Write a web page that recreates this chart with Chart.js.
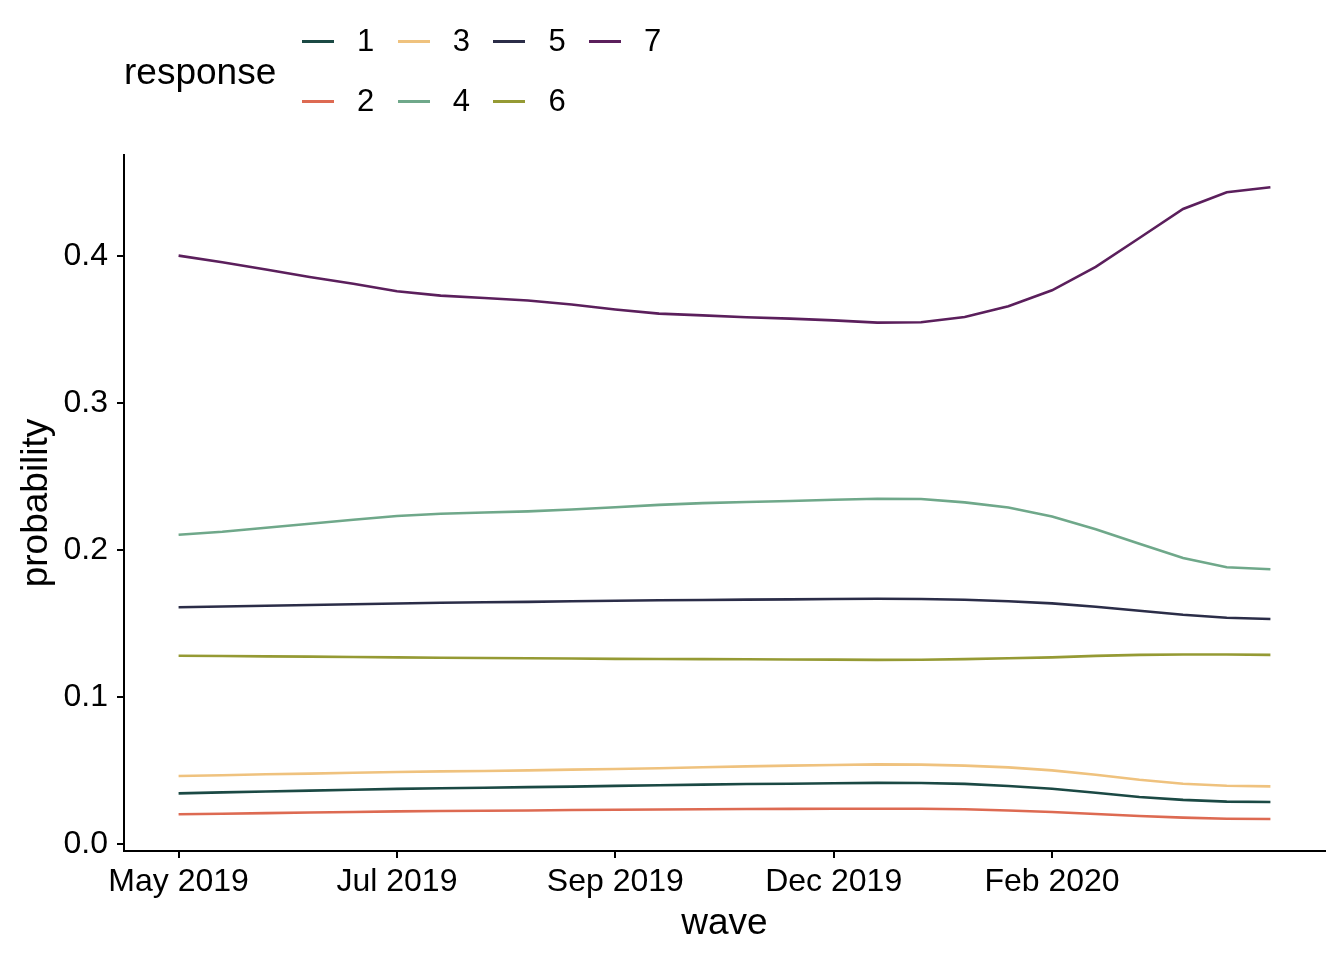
<!DOCTYPE html>
<html>
<head>
<meta charset="utf-8">
<script src="https://cdn.jsdelivr.net/npm/chart.js@4/dist/chart.umd.min.js"></script>
<style>
  body { margin: 0; background: #fff; font-family: "Liberation Sans", Arial, sans-serif; }
  #wrap { position: relative; width: 1344px; height: 960px; }
  #legend { position: absolute; left: 0; top: 0; }
  .legend-title { position: absolute; left: 124px; top: 50px; font-size: 37px; line-height: 44px; color: #000; }
  .key { position: absolute; width: 32px; height: 3px; }
  .key-label { position: absolute; font-size: 31px; line-height: 36px; color: #000; }
</style>
</head>
<body>
<div id="wrap">
  <canvas id="chart" width="1344" height="960"></canvas>
  <div id="legend"></div>
</div>
<script>
// Wave index (x) and the labels shown on the x axis
const waves = [1,2,3,4,5,6,7,8,9,10,11,12,13,14,15,16,17,18,19,20,21,22,23,24,25,26];
const waveTicks = [1, 6, 11, 16, 21];
const waveTickLabels = ['May 2019', 'Jul 2019', 'Sep 2019', 'Dec 2019', 'Feb 2020'];
const probTicks = [0, 0.1, 0.2, 0.3, 0.4];

// Predicted probability for each response level
const responses = ['1', '2', '3', '4', '5', '6', '7'];
const resp1 = [0.0344,0.0351,0.0357,0.0363,0.0369,0.0375,0.0379,0.0383,0.0387,0.0390,0.0395,0.0400,0.0404,0.0408,0.0410,0.0413,0.0416,0.0415,0.0409,0.0395,0.0376,0.0349,0.0320,0.0300,0.0288,0.0286];
const resp2 = [0.0202,0.0206,0.0210,0.0214,0.0218,0.0222,0.0224,0.0226,0.0228,0.0231,0.0233,0.0235,0.0236,0.0238,0.0239,0.0240,0.0240,0.0240,0.0236,0.0228,0.0218,0.0204,0.0190,0.0179,0.0172,0.0170];
const resp3 = [0.0463,0.0468,0.0474,0.0479,0.0485,0.0490,0.0494,0.0497,0.0501,0.0506,0.0510,0.0515,0.0522,0.0528,0.0533,0.0537,0.0542,0.0540,0.0533,0.0521,0.0501,0.0471,0.0437,0.0410,0.0396,0.0392];
const resp4 = [0.2105,0.2125,0.2153,0.2180,0.2207,0.2232,0.2248,0.2256,0.2264,0.2277,0.2292,0.2308,0.2320,0.2328,0.2335,0.2343,0.2350,0.2348,0.2325,0.2290,0.2229,0.2143,0.2044,0.1946,0.1884,0.1870];
const resp5 = [0.1611,0.1616,0.1622,0.1627,0.1632,0.1637,0.1642,0.1645,0.1648,0.1652,0.1656,0.1659,0.1661,0.1663,0.1665,0.1667,0.1669,0.1667,0.1662,0.1652,0.1638,0.1615,0.1587,0.1560,0.1540,0.1531];
const resp6 = [0.1281,0.1279,0.1277,0.1275,0.1273,0.1270,0.1268,0.1266,0.1264,0.1262,0.1260,0.1259,0.1258,0.1257,0.1256,0.1255,0.1253,0.1254,0.1258,0.1264,0.1270,0.1280,0.1287,0.1290,0.1290,0.1287];
const resp7 = [0.4005,0.3960,0.3910,0.3860,0.3813,0.3762,0.3733,0.3717,0.3700,0.3672,0.3638,0.3610,0.3598,0.3586,0.3576,0.3564,0.3549,0.3551,0.3587,0.3660,0.3769,0.3928,0.4125,0.4323,0.4437,0.4471];

const series = [resp1, resp2, resp3, resp4, resp5, resp6, resp7];
const colors = ['#1b4944', '#dd6a52', '#efc27e', '#6fa88a', '#2b2d48', '#959a34', '#5b1f5c'];

const font = '"Liberation Sans", Arial, sans-serif';

const datasets = responses.map((r, i) => ({
    label: r,
    data: waves.map((w, j) => ({ x: w, y: series[i][j] })),
    borderColor: colors[i],
    backgroundColor: colors[i],
    borderWidth: 2.6,
    pointRadius: 0,
    tension: 0,
    fill: false
}));

// Plain black axis lines with outside ticks, no grid
const axisGrid = {
    display: true,
    drawOnChartArea: false,
    drawTicks: true,
    tickLength: 7,
    color: '#000',
    lineWidth: 2
};

const chart = new Chart(document.getElementById('chart').getContext('2d'), {
    type: 'line',
    data: { datasets },
    options: {
        responsive: false,
        animation: false,
        devicePixelRatio: 1,
        layout: { padding: { top: 155, right: 19, left: 0, bottom: 0 } },
        plugins: {
            legend: { display: false },
            tooltip: { enabled: false }
        },
        scales: {
            x: {
                type: 'linear',
                min: -0.25,
                max: 27.25,
                grid: axisGrid,
                border: { display: true, color: '#000', width: 2 },
                afterBuildTicks: s => { s.ticks = waveTicks.map(v => ({ value: v })); },
                afterFit: s => { s.height = 109; },
                ticks: {
                    color: '#000',
                    font: { family: font, size: 32 },
                    padding: 5,
                    maxRotation: 0,
                    autoSkip: false,
                    callback: v => waveTickLabels[waveTicks.indexOf(v)]
                },
                title: {
                    display: true,
                    text: 'wave',
                    color: '#000',
                    font: { family: font, size: 37 },
                    padding: { top: 0, bottom: 14 }
                }
            },
            y: {
                type: 'linear',
                min: -0.0048,
                max: 0.469,
                grid: axisGrid,
                border: { display: true, color: '#000', width: 2 },
                afterBuildTicks: s => { s.ticks = probTicks.map(v => ({ value: v })); },
                afterFit: s => { s.width = 124; },
                ticks: {
                    color: '#000',
                    font: { family: font, size: 32 },
                    padding: 9,
                    callback: v => v.toFixed(1)
                },
                title: {
                    display: true,
                    text: 'probability',
                    color: '#000',
                    font: { family: font, size: 37 },
                    padding: { top: 15, bottom: 0 }
                }
            }
        }
    }
});

// Legend: title on the left, keys filled column by column in two rows
const legend = document.getElementById('legend');
const title = document.createElement('div');
title.className = 'legend-title';
title.textContent = 'response';
legend.appendChild(title);

responses.forEach((r, i) => {
    const col = Math.floor(i / 2);
    const row = i % 2;
    const keyX = 302 + col * 95.7;
    const rowY = 41 + row * 60;

    const key = document.createElement('div');
    key.className = 'key';
    key.style.left = keyX + 'px';
    key.style.top = (rowY - 1.5) + 'px';
    key.style.background = colors[i];
    legend.appendChild(key);

    const label = document.createElement('div');
    label.className = 'key-label';
    label.style.left = (keyX + 55) + 'px';
    label.style.top = (rowY - 18) + 'px';
    label.textContent = r;
    legend.appendChild(label);
});
</script>
</body>
</html>
